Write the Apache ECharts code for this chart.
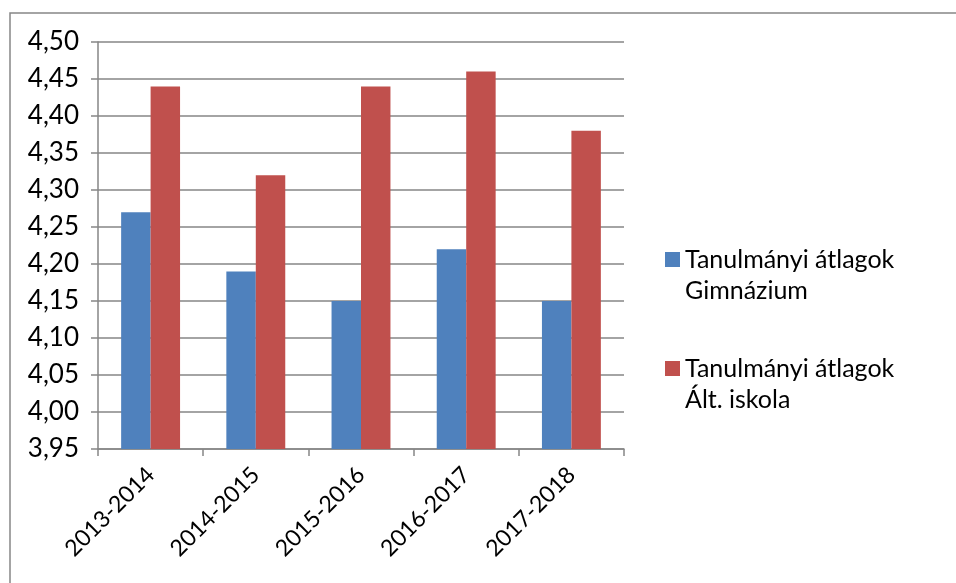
<!DOCTYPE html>
<html>
<head>
<meta charset="utf-8">
<script src="https://cdn.jsdelivr.net/npm/echarts@6/dist/echarts.min.js"></script>
<style>
html,body{margin:0;padding:0;background:#fff;}
#c{width:956px;height:583px;}
</style>
</head>
<body>
<div id="c"></div>
<script>
var categories = ['2013-2014', '2014-2015', '2015-2016', '2016-2017', '2017-2018'];
var seriesNames = ['Tanulmányi átlagok\nGimnázium', 'Tanulmányi átlagok\nÁlt. iskola'];
var gimnazium = [4.27, 4.19, 4.15, 4.22, 4.15];
var altIskola = [4.44, 4.32, 4.44, 4.46, 4.38];
var yMin = 3.95, yMax = 4.50, yStep = 0.05;

var FONT = 'Lato';
var chart = echarts.init(document.getElementById('c'));
chart.setOption({
  animation: false,
  backgroundColor: '#fff',
  graphic: [{
    type: 'rect', silent: true,
    shape: {x: 10, y: 13, width: 1200, height: 1000},
    style: {fill: 'none', stroke: '#868686', lineWidth: 1.5}
  }],
  grid: {left: 98, right: 332, top: 42, bottom: 134},
  legend: {
    orient: 'vertical',
    left: 665, top: 213, padding: 0,
    itemWidth: 15, itemHeight: 15, itemGap: 16,
    icon: 'rect',
    data: seriesNames,
    formatter: function (name) { return '\n' + name; },
    textStyle: {fontFamily: FONT, fontSize: 25, color: '#000', lineHeight: 31, padding: [0, 0, 0, 0]}
  },
  xAxis: {
    type: 'category',
    data: categories,
    axisLine: {lineStyle: {color: '#868686', width: 1.5}},
    axisTick: {show: true, length: 7, lineStyle: {color: '#868686', width: 1.5}},
    axisLabel: {rotate: 45, fontFamily: FONT, fontSize: 23, color: '#000', margin: 22}
  },
  yAxis: {
    type: 'value',
    min: yMin, max: yMax, interval: yStep,
    axisLine: {show: true, lineStyle: {color: '#868686', width: 1.5}},
    axisTick: {show: true, length: 7, lineStyle: {color: '#868686', width: 1.5}},
    splitLine: {lineStyle: {color: '#868686', width: 1.5}},
    axisLabel: {
      fontFamily: FONT, fontSize: 26, color: '#000', margin: 19,
      formatter: function (v) { return v.toFixed(2).replace('.', ','); }
    }
  },
  series: [{
    name: seriesNames[0], type: 'bar', data: gimnazium,
    barGap: '0%', barCategoryGap: '44%',
    itemStyle: {color: '#4F81BD'}
  }, {
    name: seriesNames[1], type: 'bar', data: altIskola,
    itemStyle: {color: '#C0504D'}
  }]
});
</script>
</body>
</html>
